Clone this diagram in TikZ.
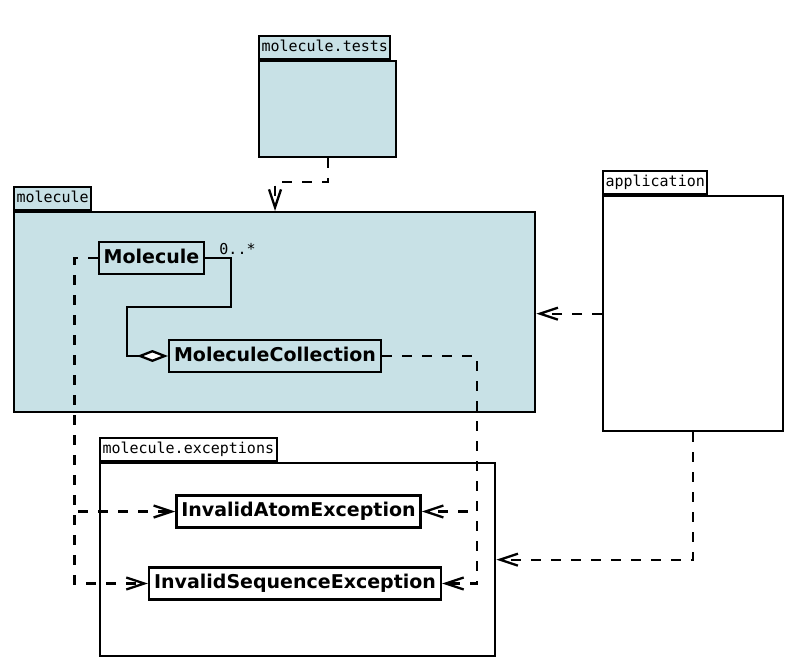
\documentclass[tikz,border=0pt]{standalone}
\usepackage{fontspec}
\usetikzlibrary{arrows.meta, positioning, calc}
\newfontfamily\umlsans{DejaVu Sans}
\newfontfamily\umlmono{DejaVu Sans Mono}
\definecolor{pkgblue}{RGB}{200,225,230}

\begin{document}
\begin{tikzpicture}[x=1pt, y=-1pt,
  pkg/.style={draw, line width=2.3pt, anchor=north west, inner sep=0pt},
  pkgtab/.style={draw, line width=2pt, anchor=south west, font=\umlmono\fontsize{15}{18}\selectfont, inner xsep=2.5pt, inner ysep=0pt, minimum height=23pt, text height=11pt, text depth=3pt},
  cls/.style={draw, line width=2.3pt, font=\umlsans\bfseries\fontsize{19}{23}\selectfont, minimum height=32pt, inner xsep=5pt, text height=14pt, text depth=4pt},
  dep/.style={line width=2.3pt, dash pattern=on 10pt off 10pt, -{Straight Barb[length=18pt, width=12pt]}},
  agg/.style={line width=2.3pt, {Diamond[fill=white, length=31pt, width=12pt]}-},
  mult/.style={font=\umlmono\fontsize{15}{18}\selectfont, inner sep=0pt}
]
\useasboundingbox (0,0) rectangle (797,666);

% Packages (body first, tab on top of it)
\node[pkg, fill=pkgblue, minimum width=137pt, minimum height=96pt] (tests) at (258,60) {};
\node[pkgtab, fill=pkgblue] (teststab) at (tests.north west) {molecule.tests};
\node[pkg, fill=pkgblue, minimum width=521pt, minimum height=200pt] (mol) at (13,211) {};
\node[pkgtab, fill=pkgblue] (moltab) at (mol.north west) {molecule};
\node[pkg, fill=white, minimum width=180pt, minimum height=235pt] (app) at (602,195) {};
\node[pkgtab, fill=white] (apptab) at (app.north west) {application};
\node[pkg, fill=white, minimum width=395pt, minimum height=193pt] (exc) at (99,462) {};
\node[pkgtab, fill=white] (exctab) at (exc.north west) {molecule.exceptions};

% Classes
\node[cls, fill=pkgblue] (molcls) at (151.5,258) {Molecule};
\node[cls, fill=pkgblue] (coll) at (275,356) {MoleculeCollection};
\node[cls, fill=white] (iae) at (298.5,511.5) {InvalidAtomException};
\node[cls, fill=white] (ise) at (295,583.5) {InvalidSequenceException};

% Aggregation with multiplicity
\draw[agg] (coll.west) -| (127,307) -| (231,258) -- (molcls.east);
\node[mult] (multlbl) at (237.5,249) {0..*};

% Dependencies
\draw[dep] (tests.south) -- ++(0,24) -| ($(mol.north west)+(262,0)$);
\draw[dep] (molcls.west) -- ++(-23,0) |- (iae.west);
\draw[dep] (molcls.west) -- ++(-23,0) |- (ise.west);
\draw[dep] (coll.east) -- ++(95,0) |- (iae.east);
\draw[dep] (coll.east) -- ++(95,0) |- (ise.east);
\draw[dep] (app.west) -- (app.west -| mol.east);
\draw[dep] (app.south) |- (exc.east);
\end{tikzpicture}
\end{document}
